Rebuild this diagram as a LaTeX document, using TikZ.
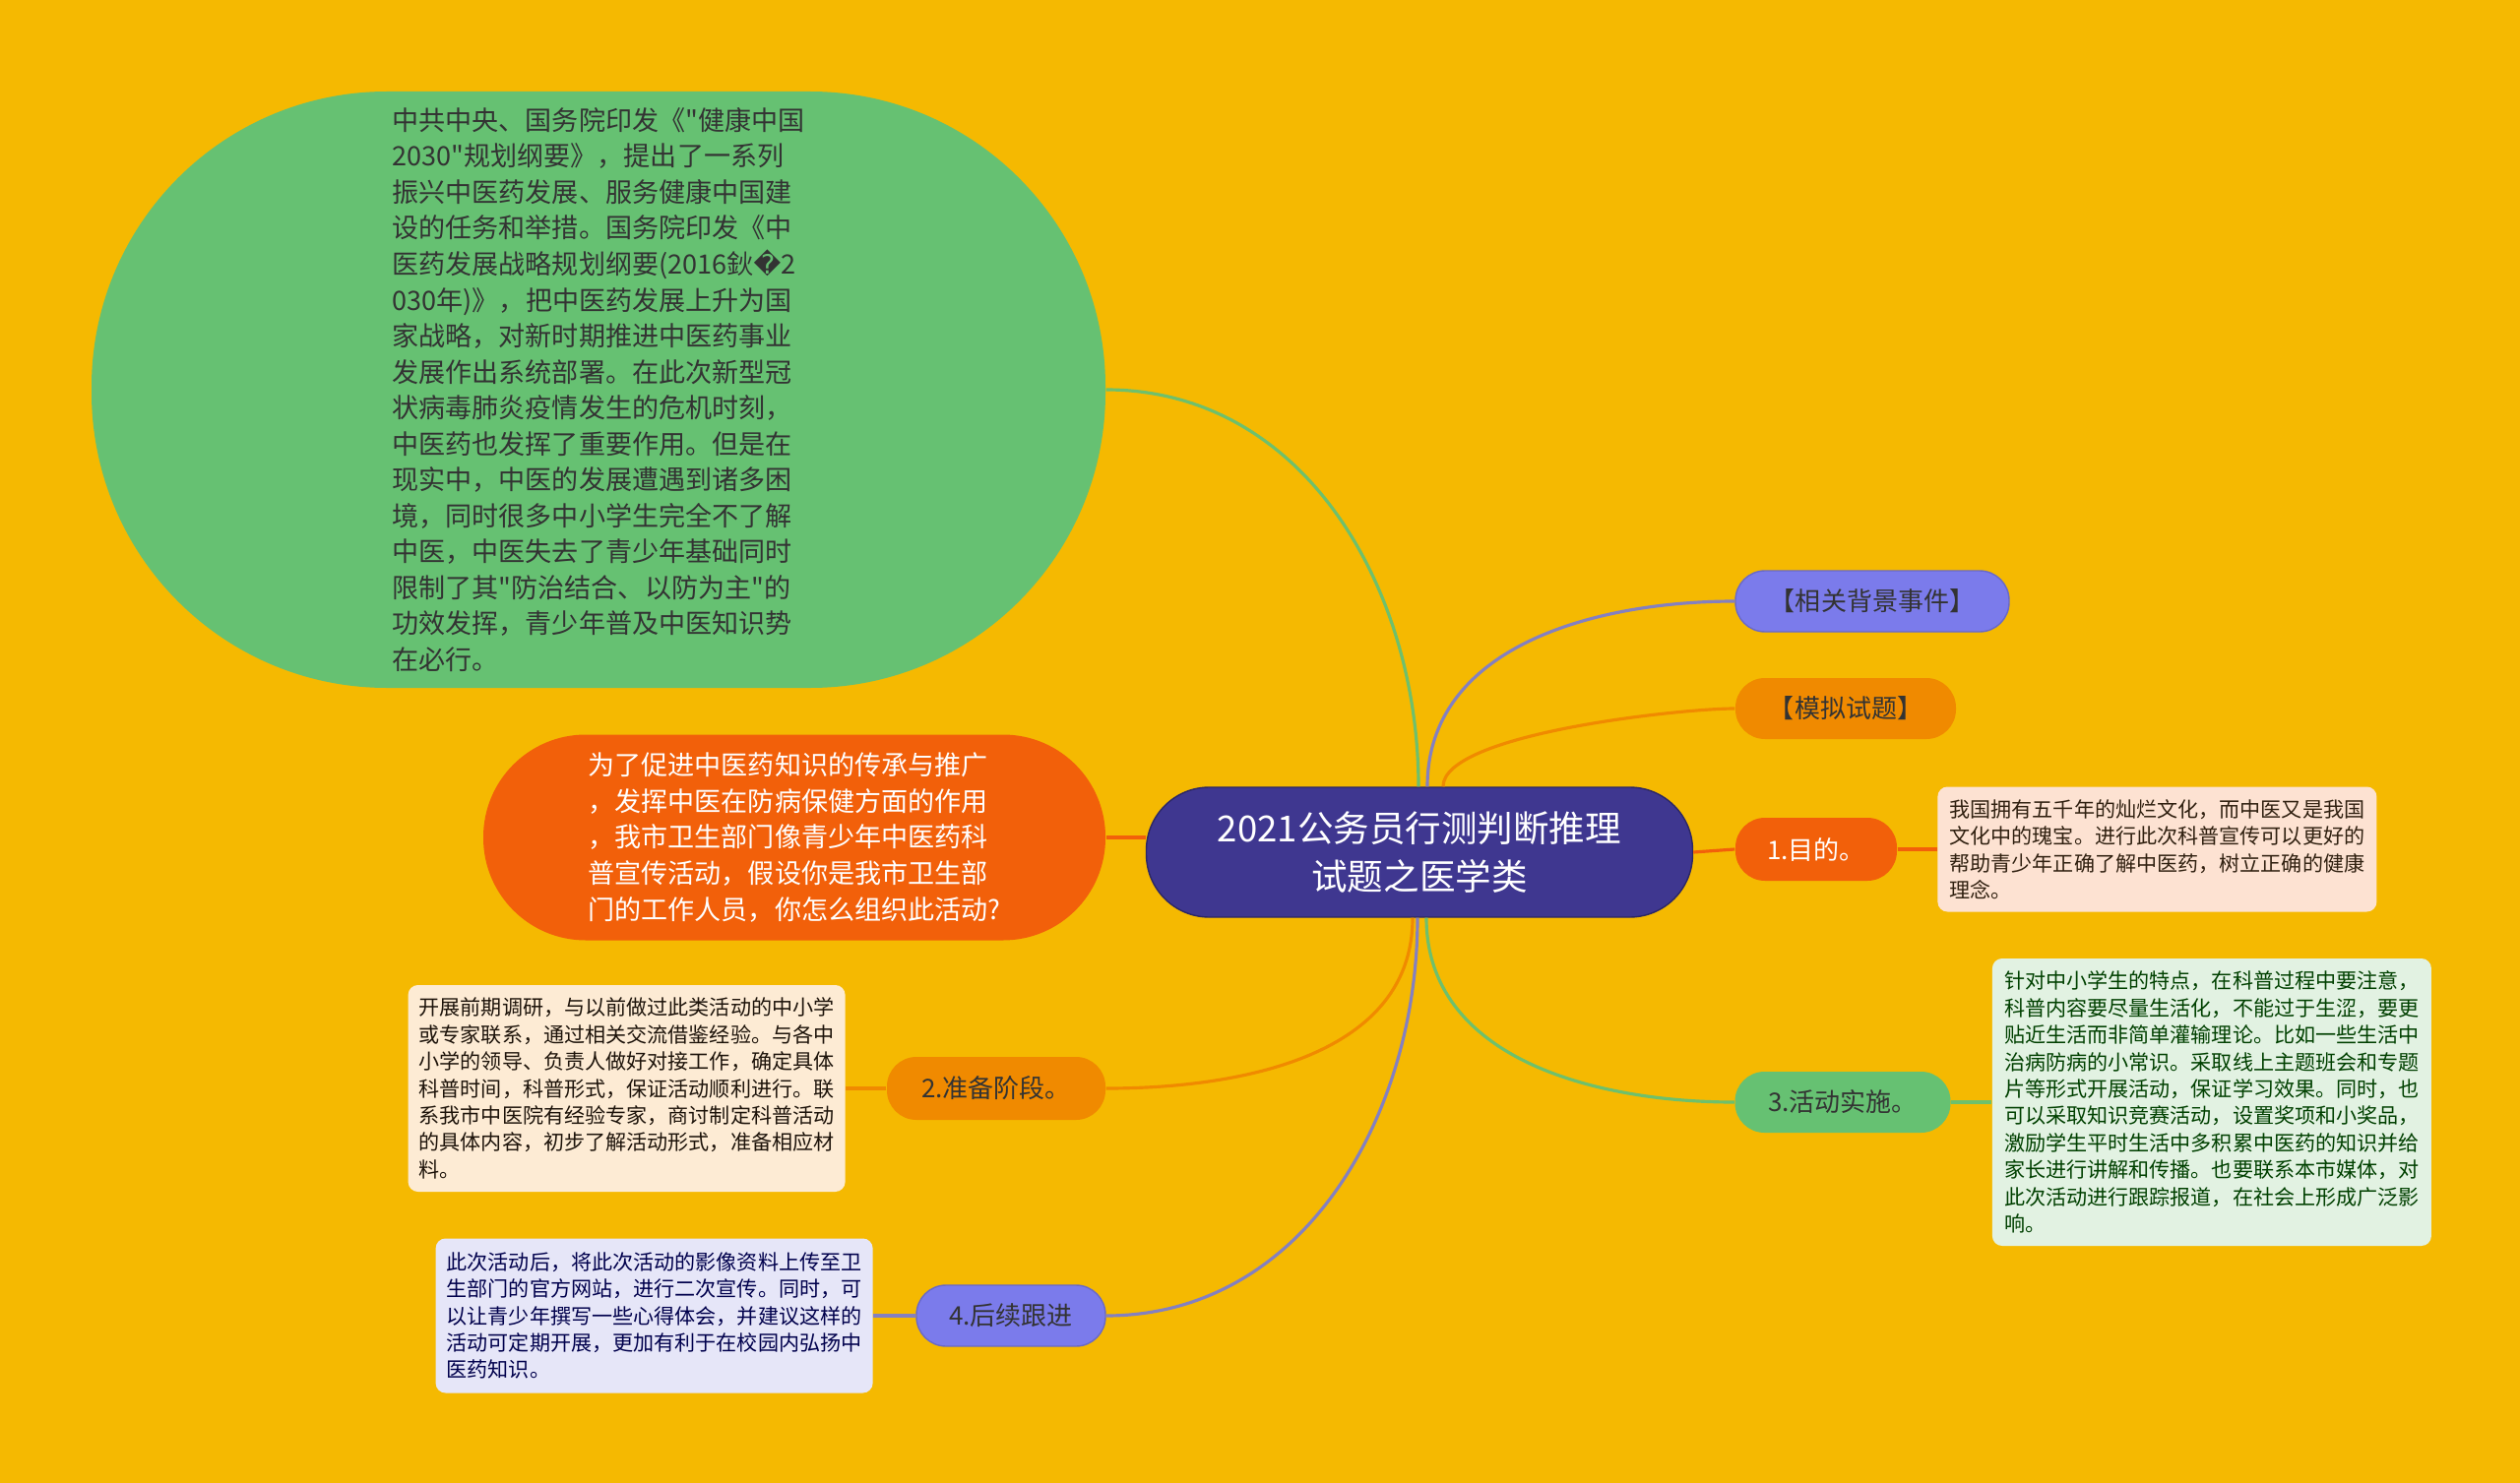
\documentclass[tikz,border=0pt]{standalone}
\usepackage{fontspec}
\setmainfont{Noto Sans CJK SC}[Ligatures=TeXOff]
\newfontfamily\dvsans{DejaVu Sans}
\usepackage{tikz}
\usetikzlibrary{positioning}
\definecolor{bgyel}{HTML}{F5B901}
\definecolor{cGreen}{HTML}{66C172}
\definecolor{cGreenL}{HTML}{6EC06C}
\definecolor{cRed}{HTML}{F2600A}
\definecolor{cOrange}{HTML}{F08A00}
\definecolor{cPurple}{HTML}{7B7BEB}
\definecolor{cPurpleL}{HTML}{8480C0}
\definecolor{cRoot}{HTML}{3F3790}
\definecolor{nPink}{HTML}{FDE2D2}
\definecolor{nBeige}{HTML}{FDEBD4}
\definecolor{nGreen}{HTML}{E2F2E2}
\definecolor{nLav}{HTML}{E6E6F8}
\tikzset{dpill/.style={rounded corners=0.3cm, minimum height=0.62cm, inner sep=0pt, align=center, text=black!80, font=\fontsize{7.4}{9}\selectfont}}
\tikzset{dbig/.style={dpill, align=left, font=\fontsize{7.7}{10.4}\selectfont}}
\tikzset{dnote/.style={rounded corners=0.1cm, inner sep=0.1cm, align=left, font=\fontsize{6}{7.8}\selectfont}}
\tikzset{lnk/.style={draw, line width=0.9pt}}

\begin{document}
\begin{tikzpicture}
	\fill[bgyel] (0,0) rectangle (25.6,-15.07);

	\node[dpill, fill=cRoot, draw=cRoot!70!black, minimum width=5.55cm, minimum height=1.32cm,
		rounded corners=0.64cm, text=white, font=\fontsize{10.4}{14}\selectfont] (root) at (14.42,-8.66)
		{2021公务员行测判断推理\\试题之医学类};

	% left side
	\node[dbig, fill=cGreen, minimum width=10.3cm, minimum height=6.06cm, rounded corners=3.0cm] (bg) at (6.08,-3.96)
		{中共中央、国务院印发《"健康中国\\
		2030"规划纲要》，提出了一系列\\
		振兴中医药发展、服务健康中国建\\
		设的任务和举措。国务院印发《中\\
		医药发展战略规划纲要(2016鈥{\dvsans �}2\\
		030年)》，把中医药发展上升为国\\
		家战略，对新时期推进中医药事业\\
		发展作出系统部署。在此次新型冠\\
		状病毒肺炎疫情发生的危机时刻，\\
		中医药也发挥了重要作用。但是在\\
		现实中，中医的发展遭遇到诸多困\\
		境，同时很多中小学生完全不了解\\
		中医，中医失去了青少年基础同时\\
		限制了其"防治结合、以防为主"的\\
		功效发挥，青少年普及中医知识势\\
		在必行。};
	\node[dbig, fill=cRed, text=white, minimum width=6.32cm, minimum height=2.09cm, rounded corners=1.04cm] (q) at (8.07,-8.51)
		{为了促进中医药知识的传承与推广\\
		，发挥中医在防病保健方面的作用\\
		，我市卫生部门像青少年中医药科\\
		普宣传活动，假设你是我市卫生部\\
		门的工作人员，你怎么组织此活动?};
	\node[dpill, fill=cOrange, minimum width=2.22cm, minimum height=0.64cm] (prep) at (10.12,-11.06) {2.准备阶段。};
	\node[dpill, fill=cPurple, draw=cPurple!85!black, minimum width=1.92cm] (follow) at (10.27,-13.37) {4.后续跟进};

	% right side
	\node[dpill, fill=cPurple, draw=cPurple!85!black, minimum width=2.78cm] (bkg) at (19.02,-6.11) {【相关背景事件】};
	\node[dpill, fill=cOrange, minimum width=2.24cm] (mock) at (18.75,-7.20) {【模拟试题】};
	\node[dpill, fill=cRed, text=white, minimum width=1.64cm, minimum height=0.64cm] (aim) at (18.45,-8.63) {1.目的。};
	\node[dpill, fill=cGreen, minimum width=2.19cm] (run) at (18.72,-11.20) {3.活动实施。};

	% notes
	\node[dnote, fill=nPink, text=black!75!brown, minimum width=4.46cm, minimum height=1.27cm, right=0.4cm of aim] (aimN)
		{我国拥有五千年的灿烂文化，而中医又是我国\\
		文化中的瑰宝。进行此次科普宣传可以更好的\\
		帮助青少年正确了解中医药，树立正确的健康\\
		理念。};
	\node[dnote, fill=nGreen, text=green!25!black, minimum width=4.46cm, minimum height=2.92cm, right=0.41cm of run] (runN)
		{针对中小学生的特点，在科普过程中要注意，\\
		科普内容要尽量生活化，不能过于生涩，要更\\
		贴近生活而非简单灌输理论。比如一些生活中\\
		治病防病的小常识。采取线上主题班会和专题\\
		片等形式开展活动，保证学习效果。同时，也\\
		可以采取知识竞赛活动，设置奖项和小奖品，\\
		激励学生平时生活中多积累中医药的知识并给\\
		家长进行讲解和传播。也要联系本市媒体，对\\
		此次活动进行跟踪报道，在社会上形成广泛影\\
		响。};
	\node[dnote, fill=nBeige, text=black!85!brown, minimum width=4.44cm, minimum height=2.10cm, left=0.41cm of prep] (prepN)
		{开展前期调研，与以前做过此类活动的中小学\\
		或专家联系，通过相关交流借鉴经验。与各中\\
		小学的领导、负责人做好对接工作，确定具体\\
		科普时间，科普形式，保证活动顺利进行。联\\
		系我市中医院有经验专家，商讨制定科普活动\\
		的具体内容，初步了解活动形式，准备相应材\\
		料。};
	\node[dnote, fill=nLav, text=blue!30!black, minimum width=4.44cm, minimum height=1.57cm, left=0.43cm of follow] (followN)
		{此次活动后，将此次活动的影像资料上传至卫\\
		生部门的官方网站，进行二次宣传。同时，可\\
		以让青少年撰写一些心得体会，并建议这样的\\
		活动可定期开展，更加有利于在校园内弘扬中\\
		医药知识。};

	% links
	\draw[lnk, cGreenL] ([xshift=-0.01cm]root.north) to[out=90, in=0] (bg.east);
	\draw[lnk, cPurpleL] ([xshift=0.08cm]root.north) to[out=90, in=180] (bkg.west);
	\draw[lnk, cOrange] ([xshift=0.24cm]root.north) to[out=90, in=180, looseness=0.45] (mock.west);
	\draw[lnk, cRed] (root.east) -- (aim.west);
	\draw[lnk, cRed] (q.east) -- (q.east -| root.west);
	\draw[lnk, cOrange] ([xshift=-0.07cm]root.south) to[out=-90, in=0] (prep.east);
	\draw[lnk, cPurpleL] ([xshift=-0.02cm]root.south) to[out=-90, in=0] (follow.east);
	\draw[lnk, cGreenL] ([xshift=0.07cm]root.south) to[out=-90, in=180] (run.west);
	\draw[lnk, cRed] (aim) -- (aimN);
	\draw[lnk, cGreenL] (run) -- (runN);
	\draw[lnk, cOrange] (prep) -- (prepN);
	\draw[lnk, cPurpleL] (follow) -- (followN);
\end{tikzpicture}
\end{document}
